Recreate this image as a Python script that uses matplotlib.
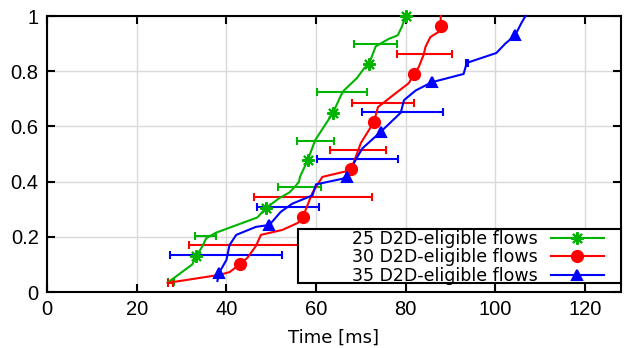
import matplotlib
matplotlib.use("Agg")
import matplotlib.pyplot as plt
from matplotlib.patches import Rectangle
import numpy as np

plt.rcParams['font.family'] = ['Liberation Sans', 'DejaVu Sans']

# ---- data ----
labels = ["25 D2D-eligible flows", "30 D2D-eligible flows", "35 D2D-eligible flows"]

green_x = [27, 32.4, 33.3, 34.7, 35.5, 37.7, 46.9, 48.9, 51.8, 54, 55.5, 56.2, 56.4, 58.2,
           59.8, 62.2, 63.8, 65.6, 66.2, 69.1, 70.7, 71.8, 73.3, 76.2, 78.2, 79.1, 80]
green_y = [0.035, 0.10, 0.13, 0.167, 0.195, 0.215, 0.27, 0.305, 0.34, 0.36, 0.385, 0.40, 0.417, 0.48,
           0.55, 0.61, 0.65, 0.714, 0.73, 0.775, 0.81, 0.826, 0.89, 0.917, 0.93, 0.96, 1.0]
green_mx = [33.3, 48.9, 58.2, 63.8, 71.8, 80.0]
green_my = [0.13, 0.305, 0.48, 0.65, 0.826, 1.0]
green_ey = [0.035, 0.203, 0.38, 0.547, 0.725, 0.9]
green_lo = [26.9, 33.1, 51.6, 55.8, 60.2, 68.4]
green_hi = [28.4, 37.6, 61.0, 64.0, 71.3, 78.0]

red_x = [26.9, 38.4, 40.7, 43, 44.7, 46.6, 47.7, 52.5, 55.9, 57, 59.2, 61.4, 67.4, 67.8, 69.1,
         70, 71.8, 72.9, 73.8, 76.7, 80.7, 81.8, 82.9, 84, 84.4, 85.5, 87.3, 87.8, 87.8]
red_y = [0.033, 0.062, 0.072, 0.10, 0.124, 0.167, 0.207, 0.225, 0.25, 0.27, 0.36, 0.417, 0.44, 0.445,
         0.5, 0.54, 0.587, 0.616, 0.67, 0.707, 0.757, 0.79, 0.815, 0.86, 0.888, 0.924, 0.942, 0.964, 1.0]
red_mx = [43.0, 57.0, 67.8, 72.9, 81.8, 87.8]
red_my = [0.10, 0.27, 0.445, 0.616, 0.79, 0.964]
red_ey = [0.033, 0.17, 0.344, 0.514, 0.685, 0.862]
red_lo = [26.9, 31.6, 46.2, 63.1, 68.0, 78.0]
red_hi = [28.0, 61.8, 72.4, 75.5, 81.8, 90.4]

blue_x = [38, 38.4, 40, 40.7, 42.2, 46.6, 49.6, 52.1, 54.7, 59.2, 60, 65.8, 66.9, 68.8,
          70.3, 74.4, 78.9, 79.6, 82.2, 85.8, 92.9, 93.6, 100.2, 102.2, 104.4, 105.8, 106.7]
blue_y = [0.04, 0.07, 0.116, 0.17, 0.207, 0.236, 0.243, 0.29, 0.32, 0.35, 0.39, 0.41, 0.417, 0.478,
          0.52, 0.58, 0.65, 0.695, 0.73, 0.76, 0.79, 0.83, 0.866, 0.9, 0.93, 0.975, 1.0]
blue_mx = [38.4, 49.6, 66.9, 74.4, 85.8, 104.4]
blue_my = [0.07, 0.243, 0.417, 0.58, 0.76, 0.93]
blue_ey = [0.134, 0.308, 0.482, 0.652, 0.83]
blue_lo = [27.5, 46.9, 60.2, 70.2, 93.4]
blue_hi = [52.5, 60.7, 78.2, 88.2, 93.9]

x_ticks = [0, 20, 40, 60, 80, 100, 120]
y_ticks = [0, 0.2, 0.4, 0.6, 0.8, 1]
y_ticklabels = ["0", "0.2", "0.4", "0.6", "0.8", "1"]

# ---- figure ----
fig = plt.figure(figsize=(6.25, 3.48), dpi=100)
ax = fig.add_axes([47 / 625, (348 - 292) / 348, (621 - 47) / 625, (292 - 16) / 348])

series = [
    (green_x, green_y, green_mx, green_my, green_ey, green_lo, green_hi, '#00b400', (8, 2, 0), 9),
    (red_x, red_y, red_mx, red_my, red_ey, red_lo, red_hi, '#ff0000', 'o', 8),
    (blue_x, blue_y, blue_mx, blue_my, blue_ey, blue_lo, blue_hi, '#0000ff', '^', 7.5),
]

handles = []
for (lx, ly, mx, my, ey, lo, hi, col, mk, ms), lab in zip(series, labels):
    lo = np.array(lo); hi = np.array(hi)
    cx = (lo + hi) / 2
    ax.errorbar(cx, ey, xerr=[cx - lo, hi - cx], fmt='none', ecolor=col,
                elinewidth=1.5, capsize=3, capthick=1.5, zorder=3)
    ax.plot(lx, ly, color=col, lw=1.5, zorder=4, clip_on=False)
    ax.plot(mx, my, ls='none', marker=mk, color=col, ms=ms, mew=1.5, zorder=5, clip_on=False)
    h, = ax.plot([], [], color=col, lw=1.5, marker=mk, ms=ms, mew=1.5, label=lab)
    handles.append(h)

ax.set_xlim(0, 128)
ax.set_ylim(0, 1)
ax.set_xticks(x_ticks)
ax.set_yticks(y_ticks)
ax.set_yticklabels(y_ticklabels)
ax.grid(True, color='#d9d9d9', lw=1)
ax.set_axisbelow(True)
ax.tick_params(direction='in', length=6, width=1.5, top=True, right=True,
               labelsize=14.5, pad=6, colors='black')
for s in ax.spines.values():
    s.set_linewidth(1.5)
ax.set_xlabel("Time [ms]", fontsize=13, labelpad=7, family='DejaVu Sans')

# legend frame (gnuplot-style wide key box)
frame = Rectangle((0.437, 0.033), 1.0 - 0.437, 0.195, transform=ax.transAxes,
                  facecolor='white', edgecolor='black', lw=1.5, zorder=9, clip_on=False)
ax.add_patch(frame)

leg = ax.legend(handles=handles, loc='lower right', bbox_to_anchor=(0.974, 0.02),
                borderaxespad=0, markerfirst=False,
                prop={'family': 'DejaVu Sans', 'size': 12.5}, handlelength=3.1,
                handletextpad=0.75, labelspacing=0.02, borderpad=0.1, frameon=False)
leg.set_zorder(10)

fig.savefig("out.png", dpi=100)
